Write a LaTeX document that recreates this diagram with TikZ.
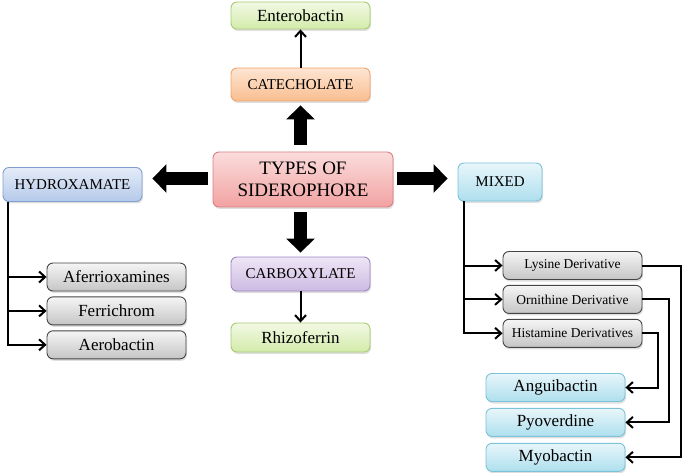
\documentclass[tikz,border=0pt]{standalone}
\usepackage{fontspec}
\setmainfont{Liberation Serif}
\usetikzlibrary{arrows.meta}
\usetikzlibrary{positioning}
\usetikzlibrary{shadows}

\definecolor{leafTop}{HTML}{F2F9E4}
\definecolor{leafBot}{HTML}{D3EBAA}
\definecolor{leafLine}{HTML}{A8CB72}
\definecolor{catTop}{HTML}{FDE5D2}
\definecolor{catBot}{HTML}{F9BE90}
\definecolor{catLine}{HTML}{F1A46E}
\definecolor{typesTop}{HTML}{FBDCDC}
\definecolor{typesBot}{HTML}{F2A2A2}
\definecolor{typesLine}{HTML}{DB7F80}
\definecolor{hydTop}{HTML}{E4ECF8}
\definecolor{hydBot}{HTML}{B5C9EA}
\definecolor{hydLine}{HTML}{809FD0}
\definecolor{carbTop}{HTML}{EEE6F6}
\definecolor{carbBot}{HTML}{CDBAE2}
\definecolor{carbLine}{HTML}{9E88C2}
\definecolor{mixTop}{HTML}{E8F6FA}
\definecolor{mixBot}{HTML}{AEDFEE}
\definecolor{mixLine}{HTML}{7AC3D8}
\definecolor{itemTop}{HTML}{F5F5F5}
\definecolor{itemBot}{HTML}{C5C5C5}
\definecolor{itemLine}{HTML}{454545}

\begin{document}
\begin{tikzpicture}[
    x=1pt,y=-1pt,
    node distance=5pt,
    box/.style={
        draw,rounded corners=6pt,line width=0.9pt,
        minimum width=139pt,minimum height=28pt,inner sep=0pt,
        align=center,
        drop shadow={shadow xshift=1pt,shadow yshift=-2pt,opacity=0.25}
    },
    leafbox/.style={
        box,draw=leafLine,top color=leafTop,bottom color=leafBot,
        font=\fontsize{17}{20}\selectfont
    },
    catbox/.style={
        box,draw=catLine,top color=catTop,bottom color=catBot,
        minimum height=33pt,font=\fontsize{15}{17}\selectfont
    },
    typesbox/.style={
        box,draw=typesLine,top color=typesTop,bottom color=typesBot,
        minimum width=180pt,minimum height=55pt,
        font=\fontsize{19}{22}\selectfont
    },
    hydbox/.style={
        box,draw=hydLine,top color=hydTop,bottom color=hydBot,
        minimum height=34pt,font=\fontsize{15}{17}\selectfont
    },
    carbbox/.style={
        box,draw=carbLine,top color=carbTop,bottom color=carbBot,
        minimum height=34pt,font=\fontsize{15}{17}\selectfont
    },
    mixbox/.style={
        box,draw=mixLine,top color=mixTop,bottom color=mixBot,
        minimum width=84pt,minimum height=38pt,
        font=\fontsize{15}{17}\selectfont
    },
    itembox/.style={
        box,draw=itemLine,top color=itemTop,bottom color=itemBot,
        font=\fontsize{17}{20}\selectfont
    },
    smallitem/.style={
        itembox,font=\fontsize{13.5}{16}\selectfont
    },
    mixleaf/.style={
        box,draw=mixLine,top color=mixTop,bottom color=mixBot,
        font=\fontsize{17}{20}\selectfont
    },
    bigarrow/.style={
        line width=13pt,-{Triangle[length=14pt,width=28pt]}
    },
    branch/.style={
        line width=2pt,
        -{Straight Barb[length=6pt,width=11pt,line width=2pt]}
    }
]
    \useasboundingbox (0,0) rectangle (685,473);

    \node [typesbox] (types) at (303,179.5) {TYPES OF\\SIDEROPHORE};
    \node [catbox] (catecholate) at (300.5,84.5) {CATECHOLATE};
    \node [leafbox,minimum height=27pt] (enterobactin) at (300.5,15.5) {Enterobactin};
    \node [hydbox] (hydroxamate) at (72.5,184.5) {HYDROXAMATE};
    \node [carbbox] (carboxylate) at (300.5,274) {CARBOXYLATE};
    \node [leafbox,minimum height=29pt] (rhizoferrin) at (300.5,337.5) {Rhizoferrin};
    \node [mixbox] (mixed) at (500,182) {MIXED};

    % hydroxamate family
    \node [itembox] (aferrioxamines) at (116.5,277) {Aferrioxamines};
    \node [itembox,below=of aferrioxamines] (ferrichrom) {Ferrichrom};
    \node [itembox,below=of ferrichrom] (aerobactin) {Aerobactin};

    % mixed family
    \node [smallitem] (lysine) at (572.5,265.5) {Lysine Derivative};
    \node [smallitem,below=of lysine] (ornithine) {Ornithine Derivative};
    \node [smallitem,below=of ornithine] (histamine) {Histamine Derivatives};

    \node [mixleaf] (anguibactin) at (555.5,387.5) {Anguibactin};
    \node [mixleaf,below=6pt of anguibactin] (pyoverdine) {Pyoverdine};
    \node [mixleaf,below=6pt of pyoverdine] (myobactin) {Myobactin};

    % main arrows
    \draw [bigarrow,shorten <=7pt,shorten >=4pt]
        (catecholate.south |- types.north) -- (catecholate.south);
    \draw [bigarrow,shorten <=5pt,shorten >=10pt]
        ([yshift=1pt]types.west) -- ([yshift=1pt]types.west -| hydroxamate.east);
    \draw [bigarrow,shorten <=4pt,shorten >=10pt]
        ([yshift=1pt]types.east) -- ([yshift=1pt]types.east -| mixed.west);
    \draw [bigarrow,shorten <=5pt,shorten >=4pt]
        (types.south -| carboxylate.north) -- (carboxylate.north);

    \draw [branch] (catecholate) -- (enterobactin);
    \draw [branch] (carboxylate) -- (rhizoferrin);

    \foreach \child in {aferrioxamines,ferrichrom,aerobactin}
        \draw [branch] ([xshift=5pt]hydroxamate.south west) |- (\child.west);
    \foreach \child in {lysine,ornithine,histamine}
        \draw [branch] ([xshift=6pt]mixed.south west) |- (\child.west);

    \draw [branch] (lysine.east) -- ++(39,0) |- (myobactin.east);
    \draw [branch] (ornithine.east) -- ++(27,0) |- (pyoverdine.east);
    \draw [branch] (histamine.east) -- ++(16,0) |- (anguibactin.east);
\end{tikzpicture}
\end{document}
